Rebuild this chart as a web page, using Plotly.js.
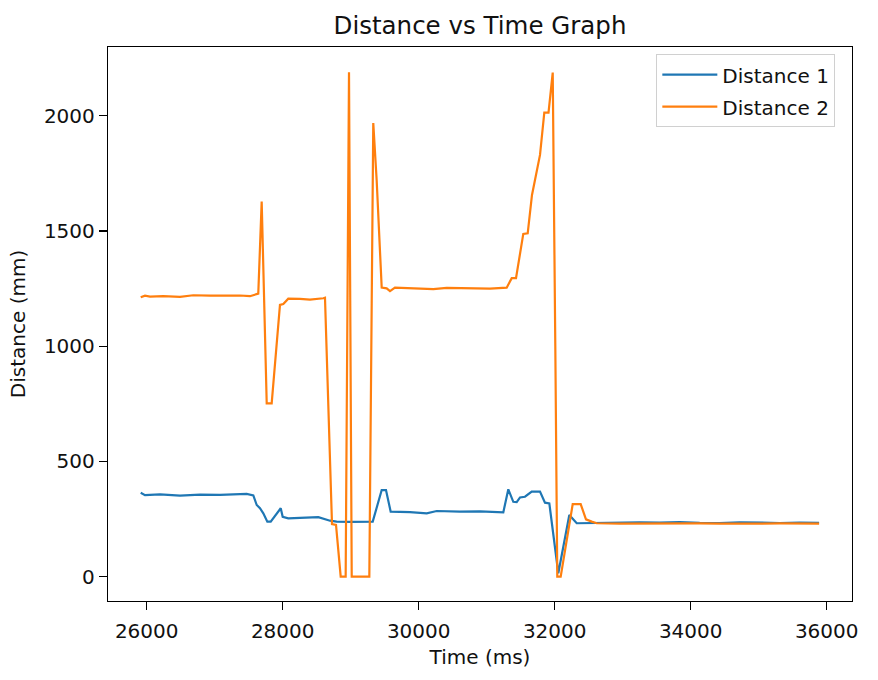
<!DOCTYPE html>
<html>
<head>
<meta charset="utf-8">
<script src="https://cdn.plot.ly/plotly-3.0.1.min.js"></script>
<style>html,body{margin:0;padding:0;background:#fff;}#chart{width:878px;height:680px;}</style>
</head>
<body>
<div id="chart"></div>
<script>
// Distance 1 (blue)
const time1 = [25912, 25975, 26196, 26490, 26784, 27078, 27471, 27568, 27618, 27666, 27715, 27774, 27824, 27912, 27971, 28000, 28082, 28254, 28524, 28696, 28794, 28990, 29324, 29456, 29519, 29588, 29872, 30118, 30265, 30607, 30901, 31244, 31318, 31391, 31441, 31490, 31563, 31662, 31784, 31857, 31921, 32053, 32215, 32324, 32662, 32956, 33250, 33544, 33838, 34132, 34426, 34721, 35015, 35309, 35603, 35888];
const dist1 = [364, 354, 357, 352, 356, 355, 359, 353, 311, 297, 275, 239, 239, 275, 297, 260, 253, 255, 258, 243, 239, 238, 239, 376, 376, 282, 280, 275, 285, 282, 283, 279, 379, 325, 324, 344, 347, 369, 369, 321, 318, 15, 268, 232, 234, 233, 236, 235, 237, 234, 233, 236, 234, 233, 235, 234];

// Distance 2 (orange)
const time2 = [25912, 25975, 26049, 26244, 26490, 26685, 26931, 27225, 27372, 27519, 27593, 27641, 27691, 27765, 27838, 27960, 28009, 28082, 28254, 28401, 28597, 28622, 28725, 28784, 28853, 28926, 28975, 29015, 29274, 29332, 29382, 29456, 29529, 29578, 29651, 29872, 30215, 30412, 30754, 31049, 31294, 31368, 31431, 31538, 31603, 31666, 31784, 31847, 31909, 31971, 32009, 32038, 32088, 32265, 32382, 32460, 32544, 32618, 32956, 33250, 33544, 33838, 34132, 34426, 34721, 35015, 35309, 35603, 35888];
const dist2 = [1212, 1219, 1215, 1217, 1214, 1221, 1219, 1221, 1220, 1217, 1225, 1228, 1628, 752, 752, 1179, 1183, 1206, 1205, 1202, 1208, 1210, 228, 225, 0, 0, 2188, 0, 0, 1968, 1720, 1254, 1251, 1239, 1254, 1252, 1248, 1253, 1251, 1250, 1254, 1295, 1295, 1487, 1490, 1656, 1830, 2013, 2013, 2187, 1000, 0, 0, 315, 315, 249, 239, 232, 230, 231, 229, 230, 231, 230, 229, 230, 231, 229, 230];

const seriesNames = ["Distance 1", "Distance 2"];
const xTicks = [26000, 28000, 30000, 32000, 34000, 36000];
const yTicks = [0, 500, 1000, 1500, 2000];

const font = "DejaVu Sans, sans-serif";
const traces = [
  {x: time1, y: dist1, type: "scatter", mode: "lines", name: seriesNames[0], legendgroup: "a",
   line: {color: "#1f77b4", width: 2.2}},
  {x: time2, y: dist2, type: "scatter", mode: "lines", name: seriesNames[1], legendgroup: "b",
   line: {color: "#ff7f0e", width: 2.2}}
];
const axisCommon = {
  showgrid: false, zeroline: false, showline: true, mirror: true,
  linecolor: "#000", linewidth: 1.2, ticks: "outside", ticklen: 8,
  tickwidth: 1.2, tickcolor: "#000", tickfont: {family: font, size: 20, color: "#111"},
  tickformat: "d"
};
const layout = {
  width: 878, height: 680,
  margin: {l: 108, r: 26, t: 47, b: 79, pad: 0},
  paper_bgcolor: "#fff", plot_bgcolor: "#fff",
  font: {family: font, color: "#111"},
  title: {text: "Distance vs Time Graph", font: {family: font, size: 24.5, color: "#111"},
          x: 0.5, xref: "paper", xanchor: "center", y: 1 - 25/680, yref: "container", yanchor: "middle"},
  xaxis: Object.assign({}, axisCommon, {
    range: [25431, 36372], tickvals: xTicks, ticklabelstandoff: 4,
    title: {text: "Time (ms)", font: {family: font, size: 20, color: "#111"}, standoff: 7}
  }),
  yaxis: Object.assign({}, axisCommon, {
    range: [-105.4, 2298], tickvals: yTicks,
    title: {text: "Distance (mm)", font: {family: font, size: 20, color: "#111"}, standoff: 12}
  }),
  legend: {x: 0.737, y: 0.987, xanchor: "left", yanchor: "top",
           bgcolor: "rgba(255,255,255,0.9)", bordercolor: "#d0d0d0", borderwidth: 1,
           itemwidth: 55, tracegroupgap: 3,
           font: {family: font, size: 20, color: "#111"}},
  showlegend: true
};
Plotly.newPlot("chart", traces, layout, {staticPlot: true, displayModeBar: false});
</script>
</body>
</html>
